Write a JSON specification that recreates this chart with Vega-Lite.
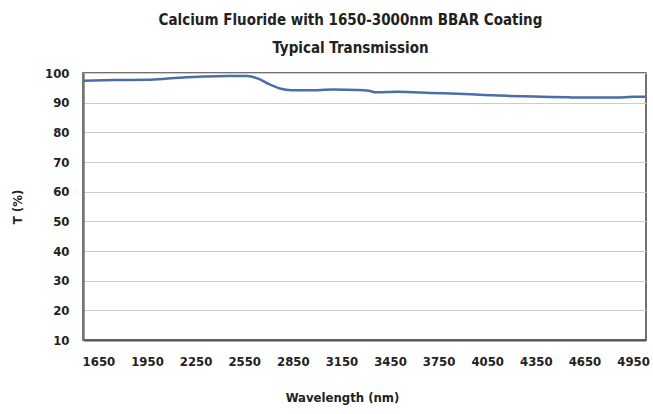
{
  "$schema": "https://vega.github.io/schema/vega-lite/v6.json",
  "width": 563,
  "height": 267,
  "autosize": "none",
  "padding": {"left": 83, "top": 73, "right": 7, "bottom": 74},
  "background": "white",
  "title": {
    "text": ["Calcium Fluoride with 1650-3000nm BBAR Coating", "Typical Transmission"],
    "font": "DejaVu Sans Condensed",
    "fontWeight": "bold",
    "fontSize": 15,
    "lineHeight": 28,
    "color": "#222222",
    "anchor": "middle",
    "frame": "group",
    "dx": -14,
    "offset": 11
  },
  "config": {
    "view": {"stroke": "#444444", "strokeWidth": 1.5},
    "font": "DejaVu Sans Condensed"
  },
  "data": {
    "values": [
      {"wavelength": 1555, "T": 97.4},
      {"wavelength": 1750, "T": 97.6},
      {"wavelength": 1950, "T": 97.7},
      {"wavelength": 2100, "T": 98.2},
      {"wavelength": 2300, "T": 98.8},
      {"wavelength": 2450, "T": 99.0},
      {"wavelength": 2570, "T": 99.0},
      {"wavelength": 2640, "T": 98.0},
      {"wavelength": 2700, "T": 96.3},
      {"wavelength": 2770, "T": 94.8},
      {"wavelength": 2840, "T": 94.2},
      {"wavelength": 2950, "T": 94.2},
      {"wavelength": 3100, "T": 94.4},
      {"wavelength": 3250, "T": 94.3},
      {"wavelength": 3320, "T": 94.0},
      {"wavelength": 3360, "T": 93.5},
      {"wavelength": 3500, "T": 93.7},
      {"wavelength": 3700, "T": 93.3},
      {"wavelength": 3950, "T": 92.8},
      {"wavelength": 4170, "T": 92.3},
      {"wavelength": 4380, "T": 92.0},
      {"wavelength": 4550, "T": 91.8},
      {"wavelength": 4700, "T": 91.7},
      {"wavelength": 4850, "T": 91.7},
      {"wavelength": 4950, "T": 92.0},
      {"wavelength": 5030, "T": 92.0}
    ]
  },
  "mark": {"type": "line", "color": "#4a6ea8", "strokeWidth": 2.5, "interpolate": "monotone", "clip": true},
  "encoding": {
    "x": {
      "field": "wavelength",
      "type": "quantitative",
      "scale": {"domain": [1555, 5030], "nice": false, "zero": false},
      "axis": {
        "title": "Wavelength (nm)",
        "values": [1650, 1950, 2250, 2550, 2850, 3150, 3450, 3750, 4050, 4350, 4650, 4950],
        "format": "d",
        "grid": false,
        "ticks": false,
        "domainColor": "#555555",
        "domainWidth": 2,
        "labelFont": "DejaVu Sans Condensed",
        "labelFontWeight": "bold",
        "labelFontSize": 13,
        "labelColor": "#222222",
        "labelPadding": 15,
        "labelFlush": false,
        "titleFont": "DejaVu Sans Condensed",
        "titleFontWeight": "bold",
        "titleFontSize": 13,
        "titleColor": "#222222",
        "titlePadding": 23,
        "titleX": 259,
        "titleAnchor": null
      }
    },
    "y": {
      "field": "T",
      "type": "quantitative",
      "scale": {"domain": [10, 100], "nice": false, "zero": false},
      "axis": {
        "title": "T (%)",
        "values": [10, 20, 30, 40, 50, 60, 70, 80, 90, 100],
        "grid": true,
        "gridColor": "#cccccc",
        "gridWidth": 1,
        "ticks": false,
        "domainColor": "#777777",
        "domainWidth": 2.5,
        "labelFont": "DejaVu Sans Condensed",
        "labelFontWeight": "bold",
        "labelFontSize": 13,
        "labelColor": "#222222",
        "labelPadding": 14,
        "labelFlush": false,
        "titleFont": "DejaVu Sans Condensed",
        "titleFontWeight": "bold",
        "titleFontSize": 13,
        "titleColor": "#222222",
        "titlePadding": 20
      }
    }
  }
}
